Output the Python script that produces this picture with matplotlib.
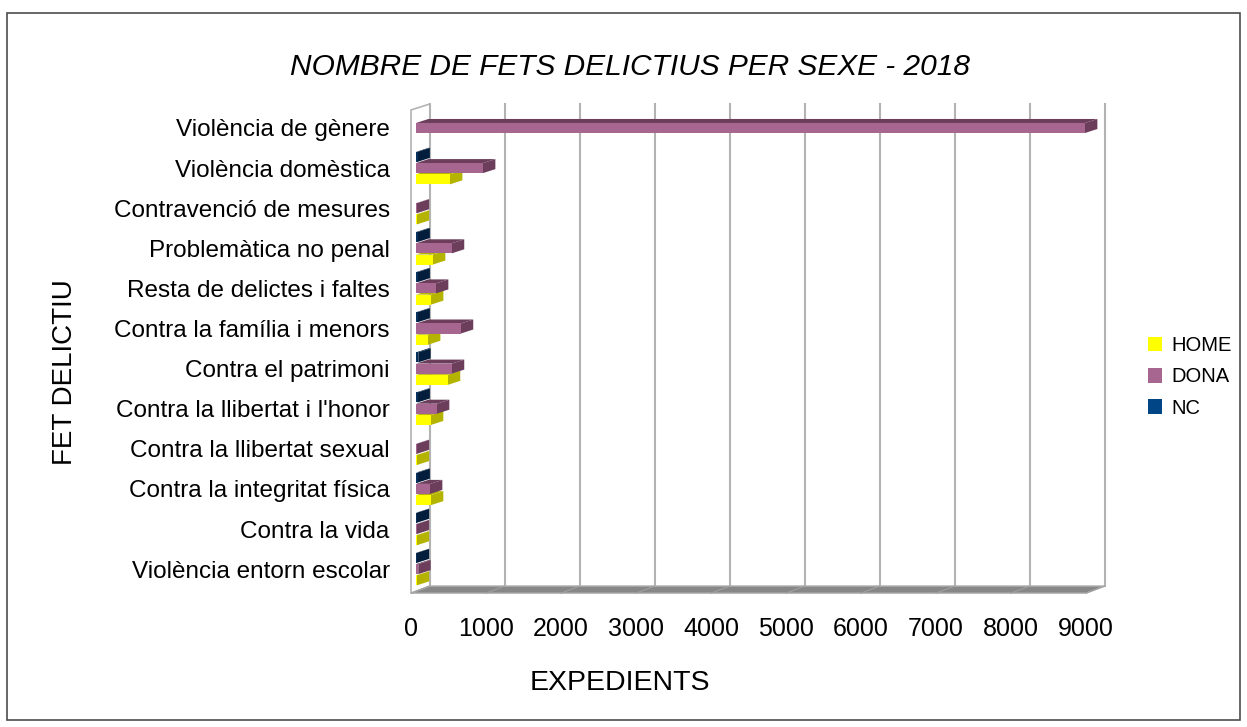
import numpy as np
import matplotlib
matplotlib.use("Agg")
import matplotlib.pyplot as plt
from matplotlib.patches import Polygon, Rectangle, Patch
from matplotlib.transforms import ScaledTranslation

plt.rcParams['font.family'] = ['Liberation Sans', 'DejaVu Sans']

# data (top category first)
categories = ['Violència de gènere', 'Violència domèstica', 'Contravenció de mesures',
              'Problemàtica no penal', 'Resta de delictes i faltes', 'Contra la família i menors',
              'Contra el patrimoni', "Contra la llibertat i l'honor", 'Contra la llibertat sexual',
              'Contra la integritat física', 'Contra la vida', 'Violència entorn escolar']
home = [0, 453, 10, 226, 200, 160, 425, 199, 10, 199, 10, 10]
dona = [8920, 893, 10, 478, 266, 598, 478, 279, 10, 186, 10, 30]
nc = [0, 20, 0, 20, 20, 20, 30, 20, 0, 20, 10, 10]
xticks = [0, 1000, 2000, 3000, 4000, 5000, 6000, 7000, 8000, 9000]

# series: name, values, front colour, face colour, offset (drawn bottom-up)
series = [
    ('HOME', home, '#FFFF00', '#B4B400', 0.28),
    ('DONA', dona, '#A6668F', '#6C3E5C', 0.0),
    ('NC', nc, '#07325E', '#021E3C', -0.28),
]
legend_cols = {'HOME': '#FFFF00', 'DONA': '#A6668F', 'NC': '#004586'}

W, H = 1247, 727
fig = plt.figure(figsize=(W / 100, H / 100), dpi=100)

# axes placed so 0 sits at ~416px and categories ~40px apart
ax = fig.add_axes([405 / W, 1 - 600 / H, 710 / W, 502 / H])
ax.set_xlim(-147, 9320)
ax.set_ylim(11.77, -0.748)
for s in ax.spines.values():
    s.set_visible(False)

# pseudo 3d geometry (data units)
x_front, x_back = -67, 187
y_top_front, y_top_back = -0.45, -0.6
y_floor_front, y_floor_back = 11.6, 11.42
bar_h = 0.25
bdx, bdy = 165, 0.1

# walls and floor
ax.add_patch(Rectangle((x_back, y_top_back), xticks[-1], y_floor_back - y_top_back,
                       facecolor='white', edgecolor='none', zorder=0))
ax.add_patch(Polygon([(x_front, y_top_front), (x_back, y_top_back), (x_back, y_floor_back),
                      (x_front, y_floor_front)], closed=True, facecolor='white',
                     edgecolor='#B3B3B3', lw=1.2, zorder=1))
ax.add_patch(Polygon([(x_front, y_floor_front), (xticks[-1] + x_front, y_floor_front),
                      (xticks[-1] + x_back, y_floor_back), (x_back, y_floor_back)], closed=True,
                     facecolor='#878787', edgecolor='#B3B3B3', lw=1.0, zorder=1))
for t in xticks:
    ax.plot([t + x_back, t + x_back], [y_top_back, y_floor_back], color='#B3B3B3', lw=1.5, zorder=1)
    ax.plot([t + x_back, t + x_front], [y_floor_back, y_floor_front], color='#A0A0A0', lw=0.8, zorder=1)

y = np.arange(len(categories))
for name, vals, front, face, off in series:
    yc = y + off
    ax.barh(yc, vals, height=bar_h, left=0, color=front, linewidth=0, zorder=3)
    for yi, v in zip(yc, vals):
        if v <= 0:
            continue
        yt, yb = yi - bar_h / 2, yi + bar_h / 2
        ax.add_patch(Polygon([(0, yt), (v, yt), (v + bdx, yt - bdy), (bdx, yt - bdy)],
                             closed=True, facecolor=face, edgecolor='none', zorder=2))
        ax.add_patch(Polygon([(v, yt), (v, yb), (v + bdx, yb - bdy), (v + bdx, yt - bdy)],
                             closed=True, facecolor=face, edgecolor='none', zorder=2))

ax.set_yticks(y)
ax.set_yticklabels(categories, fontsize=17.5)
ax.set_xticks(xticks)
ax.set_xticklabels([str(t) for t in xticks], fontsize=18)
ax.tick_params(axis='y', length=0, pad=11)
ax.tick_params(axis='x', length=0, pad=12)
for lab in ax.get_xticklabels():
    lab.set_transform(lab.get_transform() + ScaledTranslation(-5 / 100, 0, fig.dpi_scale_trans))

fig.text(630 / W, 1 - 67 / H, 'NOMBRE DE FETS DELICTIUS PER SEXE - 2018', fontsize=21.5,
         style='italic', ha='center', va='center')
fig.text(65 / W, 1 - 372 / H, 'FET DELICTIU', fontsize=20, rotation=90, ha='center', va='center')
fig.text(620 / W, 1 - 683 / H, 'EXPEDIENTS', fontsize=20.5, ha='center', va='center')

handles = [Patch(facecolor=legend_cols[n], edgecolor='none', label=n) for n in ['HOME', 'DONA', 'NC']]
fig.legend(handles=handles, loc='center left', bbox_to_anchor=(1130 / W, 1 - 377 / H),
           frameon=False, fontsize=14.5, handlelength=0.7, handleheight=0.7,
           handletextpad=0.45, labelspacing=0.6)

fig.add_artist(Rectangle((7 / W, 1 - 720 / H), 1233 / W, 707 / H, transform=fig.transFigure,
                         fill=False, edgecolor='#4D4D4D', lw=1.2))

fig.savefig('out.png', dpi=100)
